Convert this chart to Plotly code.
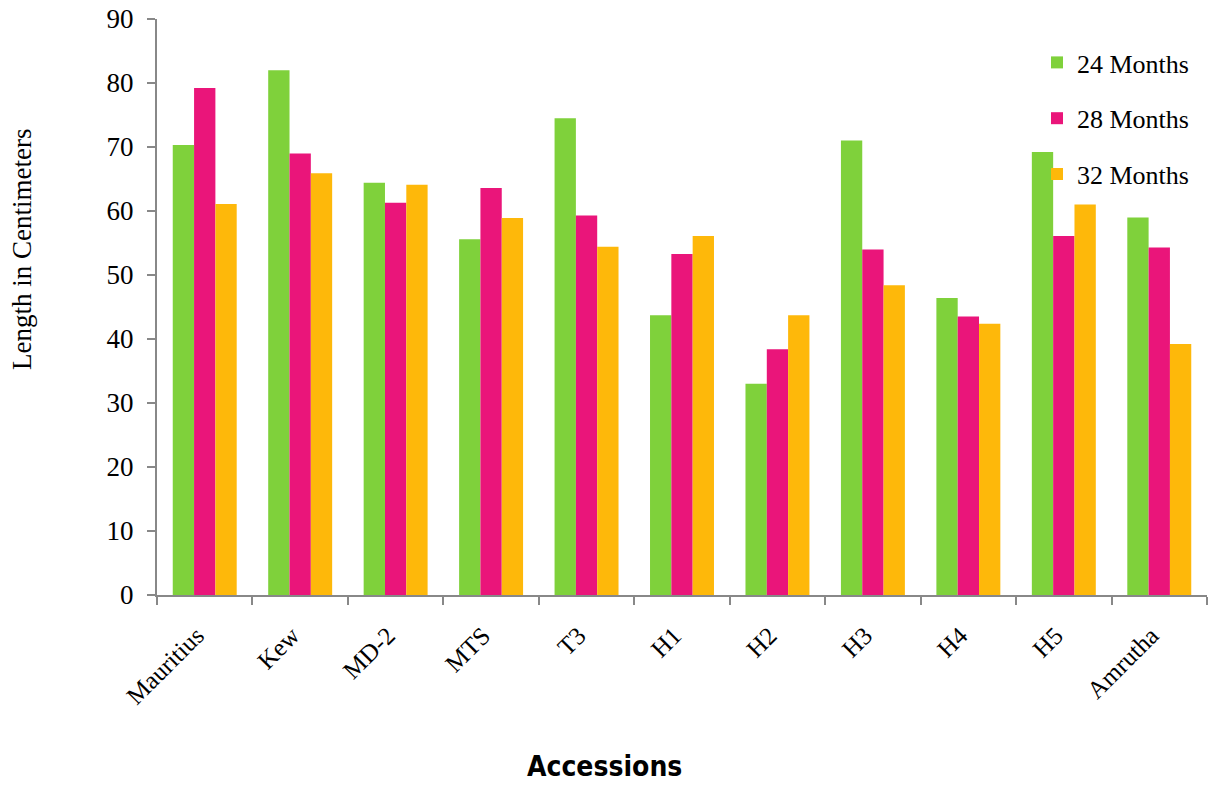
import plotly.graph_objects as go

categories = ["Mauritius", "Kew", "MD-2", "MTS", "T3", "H1", "H2", "H3", "H4", "H5", "Amrutha"]
series_names = ["24 Months", "28 Months", "32 Months"]
m24 = [70.3, 82.0, 64.4, 55.6, 74.5, 43.7, 33.0, 71.0, 46.4, 69.2, 59.0]
m28 = [79.2, 69.0, 61.3, 63.6, 59.3, 53.3, 38.4, 54.0, 43.5, 56.1, 54.3]
m32 = [61.1, 65.9, 64.1, 58.9, 54.4, 56.1, 43.7, 48.4, 42.4, 61.0, 39.2]
y_ticks = [0, 10, 20, 30, 40, 50, 60, 70, 80, 90]

colors = ["#7FD13B", "#EA157A", "#FEB80A"]
serif = "Liberation Serif, Times New Roman, serif"

# full-window figure (page body margin removed via post_script)
W, H = 1210, 787
L, T, R, B = 157, 19, 3, 192
pw, ph = W - L - R, H - T - B

def px_x(x):  # window x -> paper x
    return (x - L) / pw

def px_y(y):  # window y -> paper y
    return (H - B - y) / ph

fig = go.Figure()
for name, vals, col in zip(series_names, [m24, m28, m32], colors):
    fig.add_trace(go.Bar(
        name=name, x=categories, y=vals,
        marker=dict(color=col, line=dict(width=0)),
        legendgroup=name,
    ))

fig.update_layout(
    width=W, height=H,
    margin=dict(l=L, r=R, t=T, b=B, pad=0, autoexpand=False),
    paper_bgcolor="white", plot_bgcolor="white",
    barmode="group", bargap=0.33, bargroupgap=0,
    font=dict(family=serif, color="black"),
    showlegend=True,
    legend=dict(
        x=px_x(1037), y=px_y(39), xanchor="left", yanchor="top",
        font=dict(family=serif, size=26, color="black"),
        bgcolor="rgba(0,0,0,0)", tracegroupgap=19,
        itemwidth=30,
    ),
    xaxis=dict(
        automargin=False,
        showline=True, linecolor="#888888", linewidth=2,
        ticks="outside", tickson="boundaries", ticklen=8, tickcolor="#888888", tickwidth=2,
        tickangle=-45, tickfont=dict(family=serif, size=25),
        ticklabelstandoff=14, ticklabelshift=-8,
        showgrid=False, zeroline=False,
    ),
    yaxis=dict(
        automargin=False,
        range=[0, 90], tickvals=y_ticks,
        showline=True, linecolor="#888888", linewidth=2,
        ticks="outside", ticklen=8, tickcolor="#888888", tickwidth=2,
        tickfont=dict(family=serif, size=27),
        ticklabelstandoff=8, ticklabeloverflow="allow",
        showgrid=False, zeroline=False,
    ),
    annotations=[
        dict(text="Length in Centimeters", textangle=-90, xref="paper", yref="paper",
             x=px_x(22), y=px_y(250), showarrow=False,
             font=dict(family=serif, size=27), xanchor="center", yanchor="middle"),
        dict(text="<b>Accessions</b>", xref="paper", yref="paper",
             x=px_x(604), y=px_y(766), showarrow=False,
             font=dict(family="Liberation Sans Narrow, DejaVu Sans Condensed, sans-serif", size=28),
             xanchor="center", yanchor="middle"),
    ],
)

fig.write_html(
    "out.html",
    config={"displayModeBar": False},
    post_script="document.body.style.margin='0';document.body.style.overflow='hidden';",
)
